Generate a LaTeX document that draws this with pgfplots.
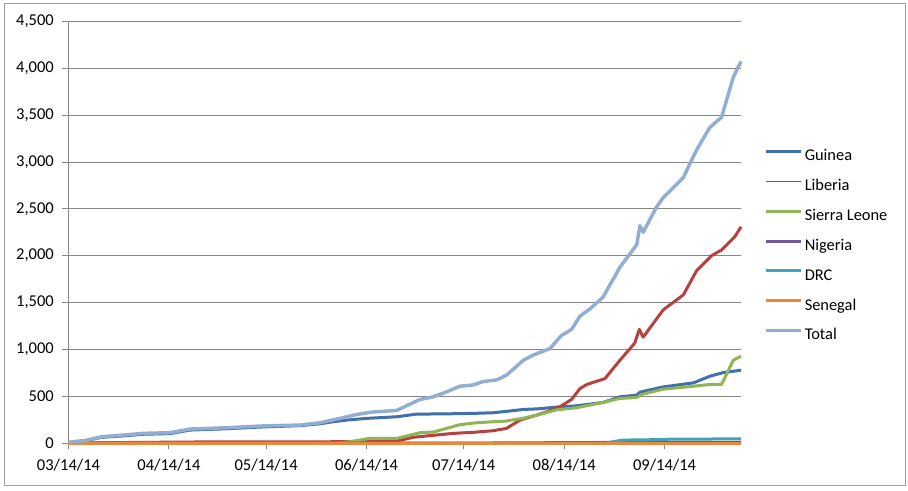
\documentclass[border=0pt]{standalone}
\usepackage{fontspec}
\setmainfont{Carlito}
\usepackage{pgfplots}
\pgfplotsset{compat=1.18}
\definecolor{cGuinea}{HTML}{4170AB}
\definecolor{cLiberia}{HTML}{B5423F}
\definecolor{cSL}{HTML}{8FB555}
\definecolor{cNigeria}{HTML}{70569A}
\definecolor{cDRC}{HTML}{3FA3BD}
\definecolor{cSenegal}{HTML}{E88A3E}
\definecolor{cTotal}{HTML}{92AED3}
\definecolor{cGrid}{HTML}{868686}
\begin{document}
\begin{tikzpicture}
\useasboundingbox (0,0) rectangle (681pt,367.5pt);
\fill[white] (0,0) rectangle (681pt,367.5pt);
\draw[color=cGrid!80, line width=0.75pt] (3.2pt,3.75pt) rectangle (678.75pt,365pt);
\begin{axis}[
  at={(51.375pt,35.25pt)}, anchor=south west,
  scale only axis, width=504.4pt, height=316.1pt,
  xmin=0, xmax=207.6, ymin=0, ymax=4500,
  axis lines*=left,
  axis line style={draw=cGrid, line width=0.75pt},
  ymajorgrids, grid style={draw=cGrid, line width=0.75pt},
  tick align=outside, major tick length=4.5pt,
  tick style={draw=cGrid, line width=0.75pt},
  ytick={0,500,...,4500},
  xtick={0,31,61,92,122,153,184},
  xticklabels={03/14/14,04/14/14,05/14/14,06/14/14,07/14/14,08/14/14,09/14/14},
  /pgf/number format/1000 sep={,},
  /pgf/number format/assume math mode=true,
  yticklabel style={xshift=-3pt},
  xticklabel style={yshift=-4pt},
  tick label style={font=\fontsize{12.4pt}{14pt}\selectfont, text=black},
  every axis plot/.append style={line width=2.25pt, line join=round, no markers},
  legend cell align=left,
  legend image code/.code={\draw[#1] (0pt,3.9pt) -- (26.25pt,3.9pt);},
  legend style={draw=none, fill=none, at={(axis description cs:1.0342,0.6985)}, anchor=north west,
    font=\fontsize{12.3pt}{14pt}\selectfont, row sep=10.37pt, column sep=1.5pt, inner sep=0pt,
    nodes={inner sep=0pt, text height=9pt, text depth=3pt}},
  clip=false,
]
\addplot[cGuinea] table {
0 5
5.6 27
10.2 60
17 76
23 93
31.3 100
37.5 138
48.8 152
59 170
71.5 185
77.6 205
81.7 227
86 245
92 263
101.3 280
107.5 309
114 310
125 316
131 323
135 337
140.4 358
145 365
149.6 380
156.8 397
165 433
170.2 493
175.4 511
176.4 543
183.6 599
192.9 642
198 713
202.1 752
207.6 777
};
\addlegendentry{Guinea}
\addplot[cLiberia, legend image post style={line width=0.6pt}] table {
0 0
10 3
20 6
40 11
92 14
101.3 20
106.4 61
112.6 82
118.8 103
125 114
131 131
135.2 156
139.4 245
143.5 287
147.6 333
151.7 387
155.3 465
157.9 582
160 625
165.6 688
170.2 883
174.8 1067
176.2 1213
177.4 1131
183.6 1422
189.8 1582
193.9 1841
198.5 2000
201.6 2061
205.7 2203
207.6 2309
};
\addlegendentry{Liberia}
\addplot[cSL] table {
0 0
83.8 0
88 20
93 49
101.3 49
108.5 110
112.6 117
120.8 195
125 213
129 223
135 234
140.4 265
145.5 305
150.7 355
156.8 376
165 433
170.2 476
175.4 486
176.9 518
183.6 575
190.8 599
198 625
201.6 625
205.2 883
207.6 927
};
\addlegendentry{Sierra Leone}
\addplot[cNigeria] table {
0 0
131 0
133 1
140 2
150 3
160 5
170 6
180 8
207.6 8
};
\addlegendentry{Nigeria}
\addplot[cDRC] table {
0 0
166 0
168 13
171 31
180 35
185 40
200 43
207.6 43
};
\addlegendentry{DRC}
\addplot[cSenegal] table {
0 0
207.6 0
};
\addlegendentry{Senegal}
\addplot[cTotal, line width=2.6pt] table {
0 7
5.6 29
10.2 67
17 85
23 103
31.3 110
37.5 149
48.8 163
59 181
71.5 192
77.6 216
83.8 263
89 305
93.6 330
101.3 348
108.5 465
112.6 493
116.7 546
120.8 606
125 620
128 656
132.2 674
135.2 724
140.4 883
143.5 940
148.6 1008
152.2 1149
155.3 1213
157.9 1355
161 1433
165 1557
170.2 1876
175.4 2117
176.4 2320
177.4 2250
181.5 2519
183.6 2621
189.8 2834
191.3 2945
193.9 3130
198 3371
201.6 3478
205.2 3905
207.6 4075
};
\addlegendentry{Total}
\end{axis}
\end{tikzpicture}
\end{document}
